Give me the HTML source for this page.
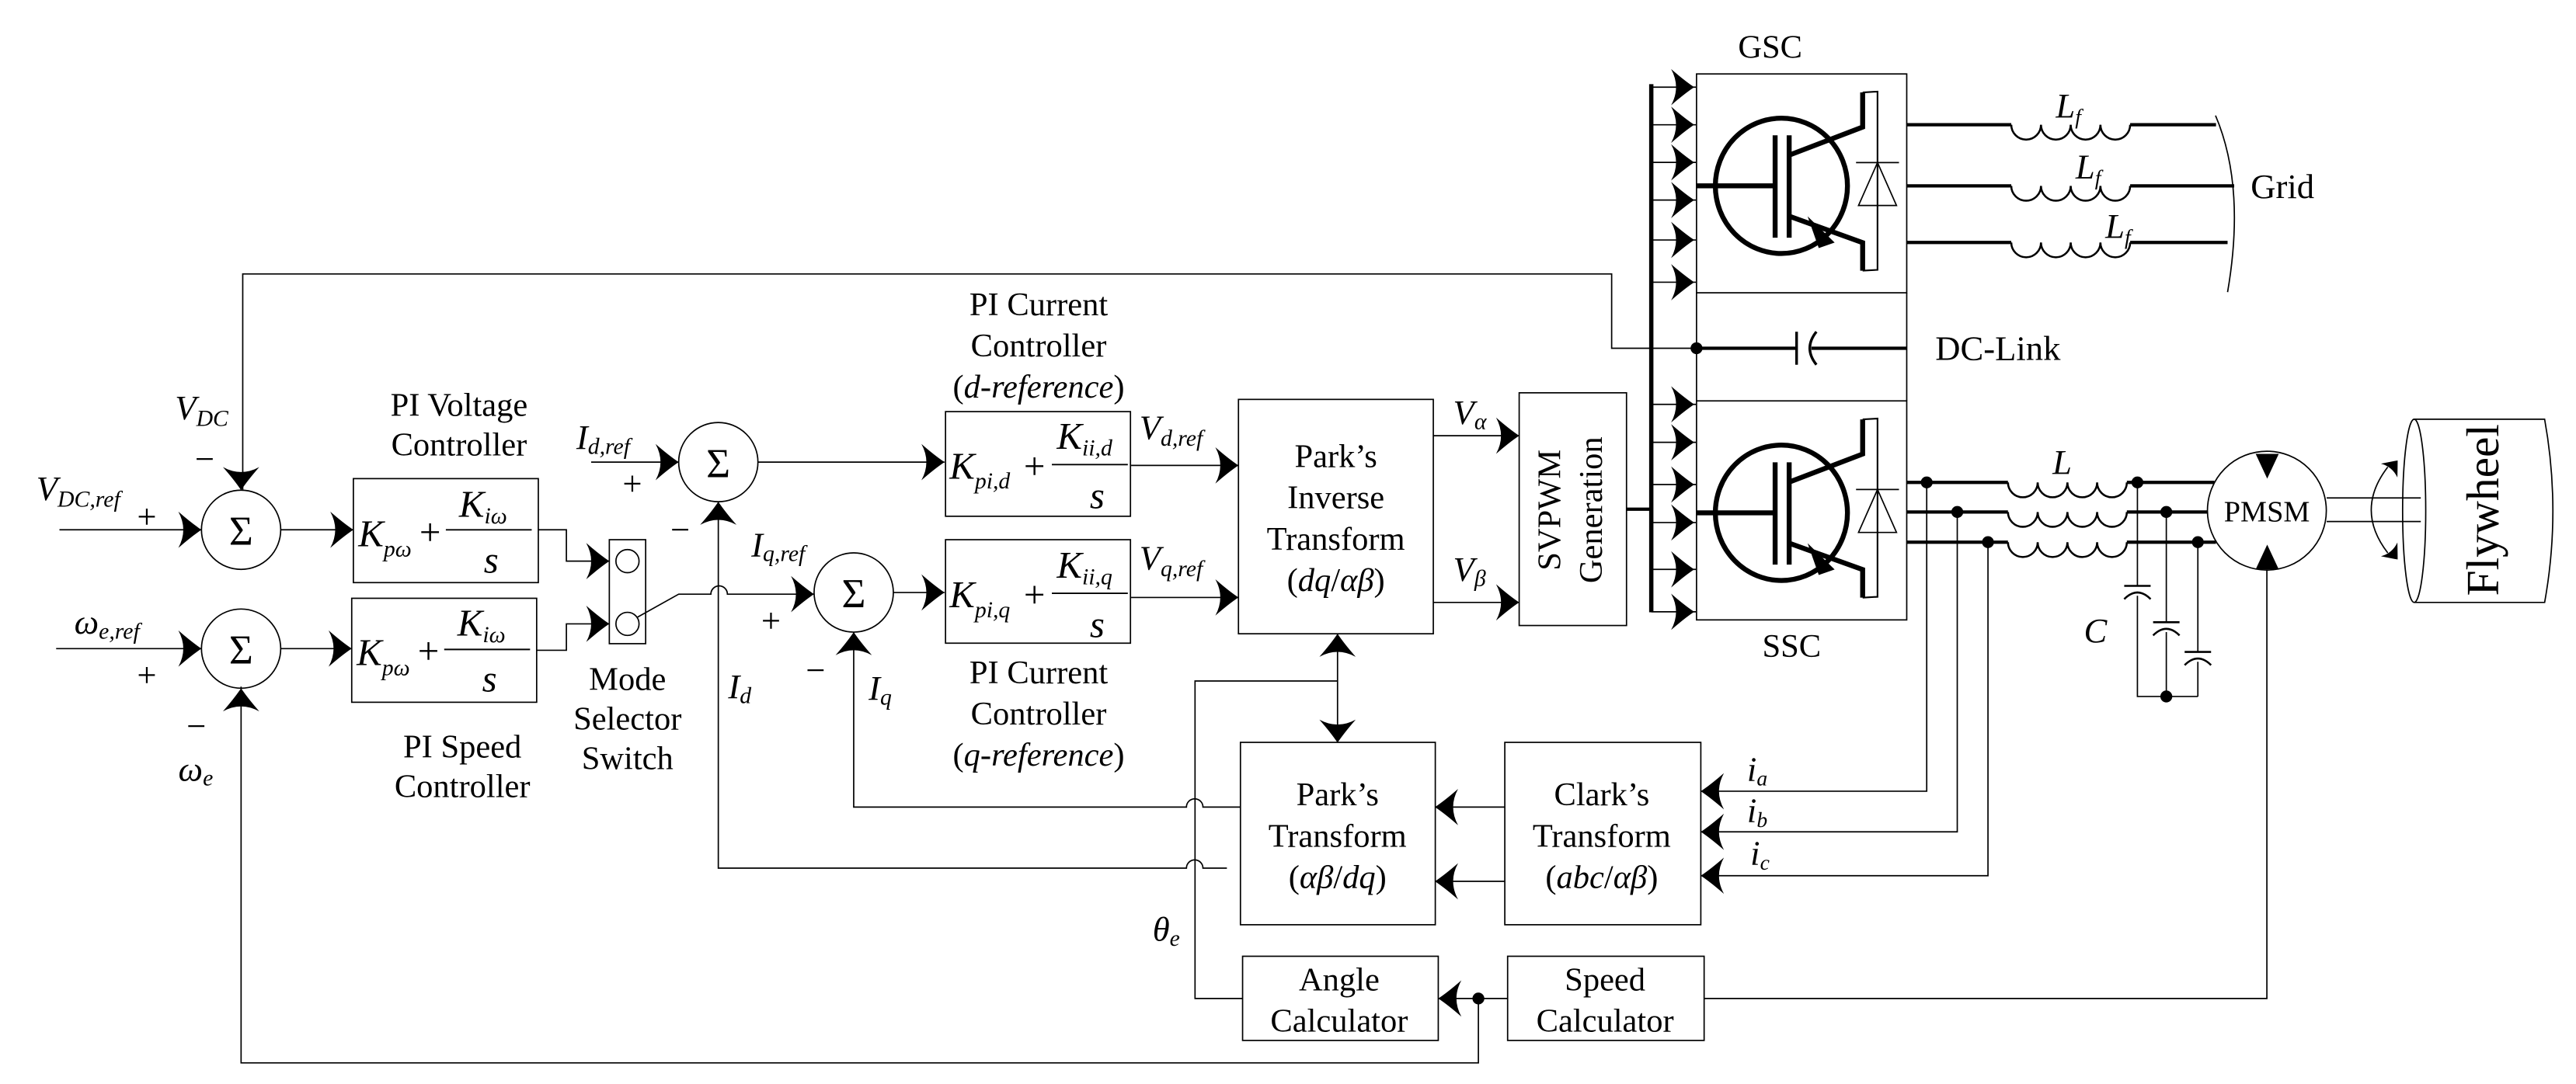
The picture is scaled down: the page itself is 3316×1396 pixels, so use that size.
<!DOCTYPE html>
<html><head><meta charset="utf-8"><style>
html,body{margin:0;padding:0;background:#fff;}
svg{display:block;}
text{font-family:"Liberation Serif",serif;fill:#000;}
.i{font-style:italic;}
</style></head><body>
<svg width="3316" height="1396" viewBox="0 0 1560 656.8" preserveAspectRatio="none" xmlns="http://www.w3.org/2000/svg">
<defs>
<path id="ar" d="M0,0 Q-6,-4 -14,-11 Q-8,0 -14,11 Q-6,4 0,0Z" fill="#000"/>
<path id="sar" d="M0,0 Q-3,-2.5 -8,-6.5 Q-5,0 -8,6.5 Q-3,2.5 0,0Z" fill="#000"/>
<g id="igbt">
<ellipse cx="1078.8" cy="112.6" rx="40" ry="41" fill="none" stroke="#000" stroke-width="3"/>
<path d="M1027.4,112.6 H1075" stroke="#000" stroke-width="3" fill="none"/>
<path d="M1075,82 V144 M1083.5,82 V144" stroke="#000" stroke-width="3" fill="none"/>
<path d="M1083.5,94 L1128,77 V56 M1083.5,131 L1128,147 V164" stroke="#000" stroke-width="3" fill="none"/>
<path d="M1096,130 L1110,148 L1100,150Z" fill="#000" transform="rotate(-8 1103 140)"/>
<path d="M1128,56 L1137,55.5 V163.5 L1128,164" stroke="#000" stroke-width="1" fill="none"/>
<path d="M1125.5,124.5 L1148.5,124.5 L1137,98.5Z M1124,98.5 H1150" stroke="#000" stroke-width="0.8" fill="none"/>
</g>
<path id="coil" d="m0,0 a9,9 0 0 0 18,0 a9,9 0 0 0 18,0 a9,9 0 0 0 18,0 a9,9 0 0 0 18,0" fill="none" stroke="#000" stroke-width="1.2"/>
</defs>

<g fill="none" stroke="#000" stroke-width="0.8">
<path d="M147,297 V166 H976 V211 H1027.4"/>
<path d="M36,321 H122 M34,393 H122"/>
<path d="M146,416 V644 H895.3 V605"/>
<circle cx="146" cy="321" r="24"/>
<circle cx="146" cy="393" r="24"/>
<path d="M170,321 H214 M170,393 H213"/>
<rect x="214" y="290" width="112" height="63"/>
<rect x="213" y="362.5" width="112" height="63"/>
<path d="M326,321 H343 V340 H369 M325,394 H343 V378 H369"/>
<rect x="369" y="327" width="22" height="63"/>
<circle cx="380" cy="340" r="7"/>
<circle cx="380" cy="378" r="7"/>
<path d="M386,374 L411,360 H430.5 a5,5 0 0 1 10,0 H493"/>
<circle cx="435" cy="280" r="24"/>
<path d="M358,280 H411 M459,280 H572"/>
<path d="M435,304 V526 H718.5 a5,5 0 0 1 10,0 H743"/>
<circle cx="517" cy="359" r="24"/>
<path d="M541,359 H572"/>
<path d="M517,383 V489 H718.5 a5,5 0 0 1 10,0 H751"/>
<rect x="572.6" y="249.4" width="112" height="63.4"/>
<rect x="572.6" y="327" width="112" height="62.7"/>
<path d="M685,282 H750 M685,362 H750"/>
<rect x="750" y="242" width="118" height="142"/>
<path d="M868,264 H920 M868,365 H920"/>
<rect x="920" y="238" width="65" height="141"/>
<rect x="751.2" y="449.8" width="118" height="110.5"/>
<rect x="911.3" y="449.8" width="118.7" height="110.5"/>
<rect x="752.5" y="579.4" width="118.5" height="51"/>
<rect x="913" y="579.4" width="119" height="51"/>
<path d="M810,384 V450 M810,412.6 H723.7 V605 H752.5"/>
<path d="M911,489 H869 M911,534 H869"/>
<path d="M913,605 H871"/>
<path d="M1032,605 H1372.8 V345"/>
<rect x="1027.4" y="44.8" width="127.3" height="132.6"/>
<rect x="1027.4" y="242.9" width="127.3" height="132.7"/>
<path d="M1027.4,177.4 V242.9 M1154.7,177.4 V242.9"/>
<path d="M1000,52.8 H1027 M1000,75.6 H1027 M1000,98.4 H1027 M1000,121.2 H1027 M1000,145.4 H1027 M1000,171 H1027"/>
<path d="M1000,245 H1027 M1000,268 H1027 M1000,293.6 H1027 M1000,316.6 H1027 M1000,345 H1027 M1000,370.7 H1027"/>
<path d="M1166.8,292.3 V479.4 H1030 M1185.3,310.2 V504 H1030 M1203.9,328.5 V530.6 H1030"/>
<path d="M1294.4,292.3 V355 M1294.4,361 V422 H1331 M1311.9,310.2 V377 M1311.9,383 V422 M1331,328.5 V395 M1331,401 V422"/>
<path d="M1286.4,355 H1302.4 M1303.9,377 H1319.9 M1323,395 H1339" stroke-width="1.2"/>
<path d="M1286.4,363 Q1294.4,355 1302.4,363 M1303.9,385 Q1311.9,377 1319.9,385 M1323,403 Q1331,395 1339,403" stroke-width="1.2"/>
<path d="M1341.7,70 Q1360,113 1349,177"/>
<circle cx="1372.8" cy="309.4" r="36"/>
<path d="M1409,301.7 H1466 M1409,316 H1466"/>
<path d="M1446,283 Q1426,309 1446,335"/>
<path d="M1462,254 H1541 Q1551,309.5 1541,365 H1462"/>
<ellipse cx="1462" cy="309.5" rx="7" ry="55.5"/>
</g>

<g fill="none" stroke="#000" stroke-width="2">
<path d="M985,308.5 H1000"/>
<path d="M1000,51 V371" stroke-width="2.6"/>
<path d="M1027.4,211 H1088 M1097,211 H1154.7"/>
<path d="M1088,201 V221" stroke-width="1.6"/>
<path d="M1100,201 Q1092,211 1100,221" stroke-width="1.6"/>
<path d="M1154.7,75.6 H1218 M1290,75.6 H1342 M1154.7,112.6 H1218 M1290,112.6 H1353 M1154.7,146.9 H1218 M1290,146.9 H1349"/>
<path d="M1154.7,292.3 H1216 M1288,292.3 H1341 M1154.7,310.2 H1216 M1288,310.2 H1337 M1154.7,328.5 H1216 M1288,328.5 H1342"/>
</g>
<use href="#coil" transform="translate(1218,75.6)"/>
<use href="#coil" transform="translate(1218,112.6)"/>
<use href="#coil" transform="translate(1218,146.9)"/>
<use href="#coil" transform="translate(1216,292.3)"/>
<use href="#coil" transform="translate(1216,310.2)"/>
<use href="#coil" transform="translate(1216,328.5)"/>
<use href="#igbt"/>
<use href="#igbt" transform="translate(0,198.1)"/>

<g fill="#000">
<circle cx="1027.4" cy="211" r="3.6"/>
<circle cx="895.3" cy="605" r="3.6"/>
<circle cx="1166.8" cy="292.3" r="3.6"/>
<circle cx="1185.3" cy="310.2" r="3.6"/>
<circle cx="1203.9" cy="328.5" r="3.6"/>
<circle cx="1294.4" cy="292.3" r="3.6"/>
<circle cx="1311.9" cy="310.2" r="3.6"/>
<circle cx="1331" cy="328.5" r="3.6"/>
<circle cx="1311.9" cy="422" r="3.6"/>
<path d="M1366,275 L1380,275 L1373,290Z"/>
<path d="M1373,330 L1366,345 L1380,345Z"/>
</g>

<use href="#ar" transform="translate(122,321)"/>
<use href="#ar" transform="translate(146,297) rotate(90)"/>
<use href="#ar" transform="translate(122,393)"/>
<use href="#ar" transform="translate(146,417) rotate(-90)"/>
<use href="#ar" transform="translate(214,321)"/>
<use href="#ar" transform="translate(213,393)"/>
<use href="#ar" transform="translate(369,340)"/>
<use href="#ar" transform="translate(369,378)"/>
<use href="#ar" transform="translate(411,280)"/>
<use href="#ar" transform="translate(435,304) rotate(-90)"/>
<use href="#ar" transform="translate(493,360)"/>
<use href="#ar" transform="translate(517,383) rotate(-90)"/>
<use href="#ar" transform="translate(572,280)"/>
<use href="#ar" transform="translate(572,359)"/>
<use href="#ar" transform="translate(750,282)"/>
<use href="#ar" transform="translate(750,362)"/>
<use href="#ar" transform="translate(920,264)"/>
<use href="#ar" transform="translate(920,365)"/>
<use href="#ar" transform="translate(810,384) rotate(-90)"/>
<use href="#ar" transform="translate(810,450) rotate(90)"/>
<use href="#ar" transform="translate(869,489) rotate(180)"/>
<use href="#ar" transform="translate(869,534) rotate(180)"/>
<use href="#ar" transform="translate(1030,479.4) rotate(180)"/>
<use href="#ar" transform="translate(1030,504) rotate(180)"/>
<use href="#ar" transform="translate(1030,530.6) rotate(180)"/>
<use href="#ar" transform="translate(871,605) rotate(180)"/>
<g>
<use href="#ar" transform="translate(1026,52.8)"/>
<use href="#ar" transform="translate(1026,75.6)"/>
<use href="#ar" transform="translate(1026,98.4)"/>
<use href="#ar" transform="translate(1026,121.2)"/>
<use href="#ar" transform="translate(1026,145.4)"/>
<use href="#ar" transform="translate(1026,171)"/>
<use href="#ar" transform="translate(1026,245)"/>
<use href="#ar" transform="translate(1026,268)"/>
<use href="#ar" transform="translate(1026,293.6)"/>
<use href="#ar" transform="translate(1026,316.6)"/>
<use href="#ar" transform="translate(1026,345)"/>
<use href="#ar" transform="translate(1026,370.7)"/>
</g>
<use href="#sar" transform="translate(1452,279) rotate(-50)"/>
<use href="#sar" transform="translate(1452,339) rotate(50)"/>

<g font-size="25" text-anchor="middle">
<text x="146" y="330">Σ</text>
<text x="146" y="402">Σ</text>
<text x="435" y="289">Σ</text>
<text x="517" y="368">Σ</text>
</g>

<g font-size="21">
<text x="106" y="254"><tspan class="i">V</tspan><tspan class="i" font-size="14" dy="4">DC</tspan></text>
<text x="118" y="285">−</text>
<text x="22" y="303"><tspan class="i">V</tspan><tspan class="i" font-size="14" dy="4">DC,ref</tspan></text>
<text x="83" y="320">+</text>
<text x="45" y="384"><tspan class="i">ω</tspan><tspan class="i" font-size="14" dy="3">e,ref</tspan></text>
<text x="83" y="416">+</text>
<text x="113" y="447">−</text>
<text x="108" y="473"><tspan class="i">ω</tspan><tspan class="i" font-size="14" dy="3">e</tspan></text>
<text x="349" y="272"><tspan class="i">I</tspan><tspan class="i" font-size="14" dy="3">d,ref</tspan></text>
<text x="377" y="300">+</text>
<text x="406" y="328">−</text>
<text x="455" y="337"><tspan class="i">I</tspan><tspan class="i" font-size="14" dy="3">q,ref</tspan></text>
<text x="461" y="383">+</text>
<text x="488" y="413">−</text>
<text x="441" y="423"><tspan class="i">I</tspan><tspan class="i" font-size="14" dy="3">d</tspan></text>
<text x="526" y="424"><tspan class="i">I</tspan><tspan class="i" font-size="14" dy="3">q</tspan></text>
<text x="690" y="266"><tspan class="i">V</tspan><tspan class="i" font-size="14" dy="4">d,ref</tspan></text>
<text x="690" y="345"><tspan class="i">V</tspan><tspan class="i" font-size="14" dy="4">q,ref</tspan></text>
<text x="880" y="257"><tspan class="i">V</tspan><tspan class="i" font-size="14" dy="3">α</tspan></text>
<text x="880" y="352"><tspan class="i">V</tspan><tspan class="i" font-size="14" dy="3">β</tspan></text>
<text x="698" y="570"><tspan class="i">θ</tspan><tspan class="i" font-size="14" dy="3">e</tspan></text>
<text x="1058" y="473"><tspan class="i">i</tspan><tspan class="i" font-size="13" dy="3">a</tspan></text>
<text x="1058" y="498"><tspan class="i">i</tspan><tspan class="i" font-size="13" dy="3">b</tspan></text>
<text x="1060" y="524"><tspan class="i">i</tspan><tspan class="i" font-size="13" dy="3">c</tspan></text>
<text x="1245" y="71"><tspan class="i">L</tspan><tspan class="i" font-size="13" dy="4">f</tspan></text>
<text x="1257" y="108"><tspan class="i">L</tspan><tspan class="i" font-size="13" dy="4">f</tspan></text>
<text x="1275" y="144"><tspan class="i">L</tspan><tspan class="i" font-size="13" dy="4">f</tspan></text>
<text x="1243" y="287" class="i">L</text>
<text x="1262" y="389" class="i">C</text>
</g>

<g font-size="20" text-anchor="middle">
<text x="278" y="252">PI Voltage</text>
<text x="278" y="276">Controller</text>
<text x="280" y="459">PI Speed</text>
<text x="280" y="483">Controller</text>
<text x="380" y="418">Mode</text>
<text x="380" y="442">Selector</text>
<text x="380" y="466">Switch</text>
<text x="629" y="191">PI Current</text>
<text x="629" y="216">Controller</text>
<text x="629" y="241">(<tspan class="i">d-reference</tspan>)</text>
<text x="629" y="414">PI Current</text>
<text x="629" y="439">Controller</text>
<text x="629" y="464">(<tspan class="i">q-reference</tspan>)</text>
<text x="809" y="283">Park’s</text>
<text x="809" y="308">Inverse</text>
<text x="809" y="333">Transform</text>
<text x="809" y="358">(<tspan class="i">dq</tspan>/<tspan class="i">αβ</tspan>)</text>
<text x="810" y="488">Park’s</text>
<text x="810" y="513">Transform</text>
<text x="810" y="538">(<tspan class="i">αβ</tspan>/<tspan class="i">dq</tspan>)</text>
<text x="970" y="488">Clark’s</text>
<text x="970" y="513">Transform</text>
<text x="970" y="538">(<tspan class="i">abc</tspan>/<tspan class="i">αβ</tspan>)</text>
<text x="811" y="600">Angle</text>
<text x="811" y="625">Calculator</text>
<text x="972" y="600">Speed</text>
<text x="972" y="625">Calculator</text>
<text transform="translate(945,309) rotate(-90)">SVPWM</text>
<text transform="translate(970,309) rotate(-90)">Generation</text>
<text x="1072" y="35">GSC</text>
<text x="1085" y="398">SSC</text>
<text x="1372.8" y="316" font-size="18">PMSM</text>
<text transform="translate(1513,309) rotate(-90)" font-size="28">Flywheel</text>
</g>
<g font-size="21">
<text x="1172" y="218">DC-Link</text>
<text x="1363" y="120">Grid</text>
</g>

<g font-size="23">
<text x="217" y="331"><tspan class="i">K</tspan><tspan class="i" font-size="14" dy="6">pω</tspan></text>
<text x="254" y="330">+</text>
<text x="278" y="313"><tspan class="i">K</tspan><tspan class="i" font-size="14" dy="4">iω</tspan></text>
<text x="293" y="347" class="i">s</text>
<text x="216" y="403"><tspan class="i">K</tspan><tspan class="i" font-size="14" dy="6">pω</tspan></text>
<text x="253" y="402">+</text>
<text x="277" y="385"><tspan class="i">K</tspan><tspan class="i" font-size="14" dy="4">iω</tspan></text>
<text x="292" y="419" class="i">s</text>
<text x="575" y="290"><tspan class="i">K</tspan><tspan class="i" font-size="14" dy="6">pi,d</tspan></text>
<text x="620" y="290">+</text>
<text x="640" y="272"><tspan class="i">K</tspan><tspan class="i" font-size="14" dy="4">ii,d</tspan></text>
<text x="660" y="308" class="i">s</text>
<text x="575" y="368"><tspan class="i">K</tspan><tspan class="i" font-size="14" dy="6">pi,q</tspan></text>
<text x="620" y="368">+</text>
<text x="640" y="350"><tspan class="i">K</tspan><tspan class="i" font-size="14" dy="4">ii,q</tspan></text>
<text x="660" y="386" class="i">s</text>
</g>
<g stroke="#000" stroke-width="0.9">
<path d="M270,321 H322 M269,393.5 H321 M637,281.5 H683 M637,359.5 H683"/>
</g>
</svg>
</body></html>
